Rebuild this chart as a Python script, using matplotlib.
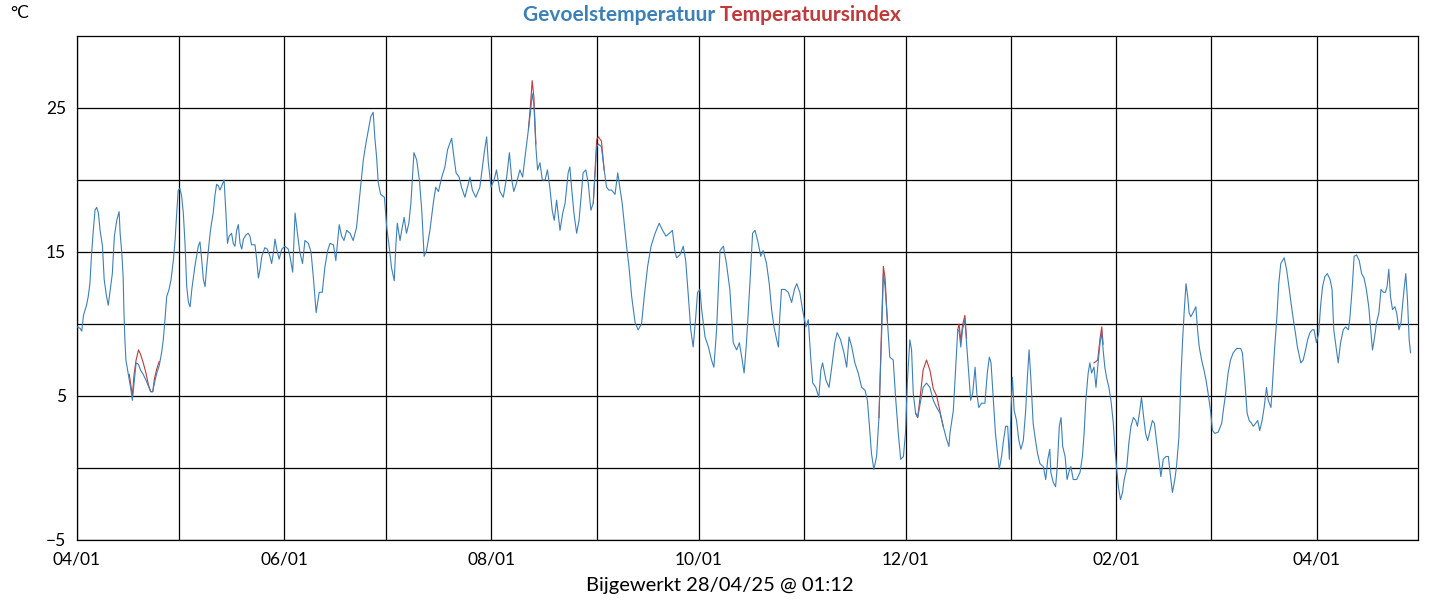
import matplotlib
matplotlib.use("Agg")
import matplotlib.pyplot as plt
import matplotlib.dates as mdates
import pandas as pd
import numpy as np

START = "2024-04-01"
# day offsets (fractional) since 2024-04-01 and "Gevoelstemperatuur" values (°C)
feel_days = [
 0.1,0.9,1.4,1.9,2.4,2.8,3.3,3.8,4.3,4.8,5.3,5.8,6.3,6.8,7.5,8.0,8.7,9.2,9.7,10.4,11.0,11.7,12.4,12.7,13.2,13.6,13.8,14.1,14.4,14.9,15.4,15.9,16.3,16.8,17.4,18.1,18.7,19.5,20.3,21.0,21.7,22.3,22.8,23.5,24.2,24.9,25.4,25.9,26.4,27.1,27.7,28.4,28.9,29.3,29.8,30.3,30.8,31.3,31.8,32.3,32.8,33.3,33.8,34.2,34.7,35.2,35.7,36.2,36.7,37.2,37.7,38.2,38.7,39.2,39.6,40.1,40.6,41.1,41.6,42.1,42.6,43.3,43.8,44.3,44.8,45.5,46.0,46.5,47.0,47.5,48.0,48.5,49.0,49.8,50.4,50.9,51.4,52.4,52.9,53.4,53.9,54.4,55.3,56.0,56.8,57.3,57.8,58.3,58.8,59.5,60.3,61.2,62.2,
 62.7,63.5,64.2,64.9,65.6,66.4,67.1,68.1,68.9,69.6,70.4,71.3,72.2,73.0,73.8,74.5,75.5,76.2,77.2,77.9,78.6,79.4,80.4,81.3,82.3,82.8,83.5,84.3,85.1,85.8,86.5,87.2,87.7,88.2,88.7,89.4,90.5,91.2,91.8,92.6,93.4,93.9,94.3,95.1,95.6,96.3,97.0,97.7,98.3,99.2,100.0,100.8,101.5,102.2,102.9,103.9,104.9,105.6,106.4,107.4,108.3,109.1,110.3,110.8,111.6,112.5,113.2,114.2,115.7,116.4,117.4,118.6,119.9,120.6,121.1,121.9,122.8,123.5,124.5,125.5,126.5,127.3,128.0,128.6,
 129.4,130.4,131.2,131.9,132.9,133.6,134.0,134.5,135.1,135.6,136.3,137.0,137.8,138.5,139.2,139.9,140.5,141.2,142.2,143.0,143.7,144.6,145.1,145.6,146.3,147.1,147.8,148.4,149.0,149.8,150.5,151.3,152.0,153.0,153.5,154.4,155.2,155.9,156.6,157.4,158.4,159.2,159.8,160.5,161.1,161.8,162.5,163.3,164.3,165.2,166.2,167.0,168.0,169.0,170.2,171.4,172.4,173.4,174.4,175.3,176.0,176.5,177.5,178.5,179.2,180.0,180.7,181.4,182.1,182.7,183.4,183.9,184.9,185.9,186.8,187.5,188.3,189.3,190.3,191.2,
 192.2,193.2,194.2,195.0,195.7,196.4,197.1,198.1,198.9,199.6,200.4,201.3,202.0,203.0,203.8,204.5,205.2,206.0,206.5,206.9,207.4,208.4,209.4,210.4,211.2,211.9,212.8,213.6,214.6,215.3,216.0,216.6,217.5,218.4,219.0,219.5,220.5,221.4,222.2,223.1,223.8,224.8,225.8,226.6,227.3,228.1,229.0,230.0,231.0,232.0,232.7,233.3,233.9,234.6,235.4,236.1,236.9,237.4,237.9,238.6,239.3,240.3,241.0,241.8,242.5,243.3,243.9,244.5,245.2,245.7,246.2,246.9,247.5,248.4,249.1,250.1,251.1,252.1,253.1,254.1,255.0,256.0,256.7,
 257.0,258.0,258.7,259.3,259.7,260.2,260.7,261.4,261.9,262.4,263.1,263.7,264.4,264.9,265.5,266.3,267.3,268.0,268.6,269.1,269.8,270.4,271.0,271.5,272.2,272.7,273.4,274.0,274.5,275.0,275.4,275.9,276.6,277.3,277.9,278.6,279.3,279.8,280.3,280.8,281.5,282.2,282.8,283.5,284.5,285.2,285.8,286.4,286.7,287.4,288.1,288.6,289.2,289.7,290.2,290.9,291.5,292.0,292.6,293.3,294.3,295.3,296.0,296.5,297.0,297.7,298.2,298.7,299.4,300.0,300.5,301.2,301.7,302.1,302.6,303.1,303.8,304.4,305.1,305.6,306.1,306.6,307.2,307.8,308.3,309.0,309.7,310.3,311.0,311.7,312.2,312.9,313.4,313.9,314.6,315.2,315.9,316.6,317.2,317.8,318.5,319.1,319.8,320.6,321.3,321.8,322.5,
 323.2,323.7,324.4,325.0,325.5,326.0,326.5,327.0,327.4,327.9,328.6,329.4,329.9,330.4,331.1,331.8,332.4,333.0,333.7,334.3,335.0,336.0,337.0,337.6,338.2,338.9,339.6,340.4,341.4,342.6,343.1,343.8,344.5,345.1,345.8,346.3,347.0,347.6,348.2,348.9,349.5,350.2,350.7,351.5,351.9,352.5,353.2,353.8,354.4,355.4,356.1,356.8,357.4,358.1,358.7,359.3,360.3,361.0,361.7,362.3,363.0,363.7,364.2,364.9,365.6,366.1,366.7,367.4,368.1,368.9,369.5,370.0,370.8,371.3,372.0,372.8,373.5,374.3,374.7,375.4,376.0,376.7,377.5,378.2,378.9,379.6,380.3,380.9,381.4,381.9,382.6,383.3,383.9,384.6,385.2,385.7,386.2,386.7,387.3,388.0,388.5,389.2,389.8,390.2,390.7,391.2,391.7,392.2,392.6]
feel_vals = [
 9.8,9.7,9.5,10.6,11.0,11.3,11.9,12.8,14.9,16.5,17.9,18.1,17.7,16.5,15.4,13.1,11.9,11.3,12.2,13.5,16.1,17.2,17.8,16.3,14.9,13.2,11.0,8.9,7.5,6.8,6.1,5.4,4.7,5.9,7.3,7.2,6.8,6.5,6.1,5.7,5.3,5.3,5.9,6.6,7.1,8.0,8.9,10.3,11.9,12.4,13.1,14.5,15.9,17.5,19.3,19.4,18.9,17.7,15.6,12.6,11.5,11.2,12.4,13.1,14.0,14.7,15.4,15.7,14.5,13.1,12.6,14.0,15.2,16.3,17.0,17.7,18.9,19.7,19.6,19.3,19.6,20.0,17.9,15.6,16.1,16.3,15.6,15.4,16.5,16.9,15.6,15.2,15.9,16.2,16.3,16.1,15.5,15.5,14.5,13.2,13.8,14.7,15.3,15.2,14.7,14.2,14.9,15.9,15.2,14.5,15.2,15.4,15.2,
 14.7,13.6,17.7,16.3,15.0,14.2,15.8,15.6,15.0,13.2,10.8,12.2,12.2,14.0,15.1,15.6,15.5,14.4,16.9,16.1,15.8,16.5,16.3,15.8,16.7,17.9,19.5,21.4,22.6,23.5,24.4,24.7,22.9,21.6,19.8,19.0,18.8,16.7,15.6,13.9,13.0,15.6,17.0,15.8,16.5,17.4,16.3,17.0,18.4,21.9,21.4,20.0,17.9,14.7,15.1,16.5,18.4,19.5,19.2,20.2,20.9,22.1,22.9,21.9,20.5,20.2,19.5,18.8,20.2,19.3,18.8,19.5,21.9,23.0,21.2,19.5,20.0,20.7,19.2,18.8,20.2,21.9,20.0,19.2,
 19.8,20.7,20.2,21.6,23.5,24.9,26.0,25.3,22.3,20.7,21.2,20.0,20.0,20.7,19.5,17.9,17.2,18.6,16.5,17.7,18.4,20.5,20.9,19.5,17.7,16.3,17.2,18.8,20.5,20.7,19.8,17.9,18.4,22.3,22.5,22.3,20.7,19.5,19.3,19.3,19.0,20.5,19.5,18.4,17.0,15.4,14.0,11.9,10.1,9.6,10.0,11.9,14.0,15.4,16.3,17.0,16.5,16.1,16.3,16.5,15.1,14.6,14.8,15.4,14.4,11.9,9.6,8.4,10.3,12.2,12.4,11.0,9.1,8.4,7.5,7.0,9.6,15.1,15.4,14.2,
 12.4,8.7,8.2,8.7,7.7,6.6,8.7,12.8,16.3,16.5,15.8,14.7,15.1,14.2,12.8,11.0,9.8,8.9,8.4,10.5,12.4,12.4,12.2,11.5,12.4,12.8,12.2,11.0,9.8,10.3,7.7,5.9,5.6,4.9,6.8,7.3,6.1,5.6,7.0,8.7,9.4,8.9,8.0,7.0,9.1,8.4,7.3,6.6,5.6,5.4,4.7,2.9,1.0,-0.1,0.8,3.5,9.4,13.5,12.6,10.1,7.7,7.5,4.9,2.4,0.6,0.8,2.4,6.1,8.9,8.2,5.2,3.8,3.5,4.7,5.6,5.9,5.6,4.7,4.2,3.8,2.9,2.0,1.5,
 2.4,4.0,7.0,9.6,9.5,8.4,9.6,10.3,8.7,7.0,4.7,5.2,7.0,5.2,4.2,4.5,4.5,6.6,7.7,7.3,4.7,2.4,1.0,-0.1,0.8,1.8,2.9,2.9,0.6,4.2,6.3,4.0,3.3,1.9,1.3,1.9,4.0,6.3,8.2,6.3,3.1,1.9,1.0,0.3,0.1,-0.8,0.6,1.3,-0.3,-1.0,-1.3,0.1,2.9,3.5,1.5,0.8,-0.8,-0.3,0.1,-0.8,-0.8,-0.3,0.8,2.4,4.7,6.6,7.3,6.6,7.0,5.6,7.0,8.7,9.4,8.2,7.0,6.3,5.6,4.7,3.1,1.3,-0.1,-1.3,-2.2,-1.7,-0.8,-0.1,1.8,2.9,3.5,3.3,2.9,4.0,4.9,3.8,2.4,1.9,2.6,3.3,3.1,1.9,0.6,-0.6,0.6,0.8,0.8,-0.3,-1.7,
 -0.8,0.1,2.1,6.3,8.9,11.0,12.8,11.9,10.8,10.5,10.8,11.2,9.6,8.4,7.5,6.8,6.1,5.2,4.0,2.6,2.4,2.5,3.1,4.2,5.2,6.6,7.5,8.0,8.3,8.3,8.0,6.1,3.8,3.3,3.1,2.9,3.1,3.3,2.6,3.3,4.2,5.6,4.7,4.2,5.6,8.0,10.3,12.8,14.2,14.6,13.8,12.6,11.5,10.3,9.4,8.4,7.3,7.5,8.2,8.9,9.4,9.6,9.6,8.7,9.4,11.2,12.6,13.3,13.5,13.1,12.4,9.6,8.2,7.3,8.7,9.6,9.8,9.6,10.3,12.4,14.7,14.8,14.4,13.5,13.2,12.4,11.2,9.6,8.2,8.9,10.1,10.8,12.4,12.2,12.2,12.6,13.8,11.9,11.0,11.2,10.8,9.6,10.1,11.2,12.4,13.5,11.7,8.9,8.0]

# "Temperatuursindex" where it differs visibly from the gevoelstemperatuur
index_segments = [
 ([15.4,16.3,16.8,17.4,18.1,18.7,19.5,20.3,21.0,21.7,22.3,22.8,23.5,24.2],
  [6.5,5.0,6.5,7.5,8.2,7.9,7.3,6.6,5.8,5.3,5.3,6.2,6.9,7.4]),
 ([132.9,133.6,134.0,134.5,135.1], [23.5,25.5,26.9,25.8,22.5]),
 ([152.0,153.0,153.5,154.4,155.2], [18.4,22.8,23.0,22.7,20.7]),
 ([236.1,236.9,237.4,237.9,238.6], [3.5,10.0,14.0,13.2,10.1]),
 ([246.9,247.5,248.4,249.1,250.1,251.1,252.1,253.1,254.1,255.0],
  [3.8,3.5,5.3,6.8,7.5,6.8,5.5,5.0,3.9,2.9]),
 ([259.3,259.7,260.2,260.7,261.4,261.9], [9.6,10.0,8.8,9.9,10.6,9.0]),
 ([299.4,300.0,300.5,301.2,301.7,302.1], [7.3,7.4,7.5,9.0,9.8,8.6]),
]

BLUE = "#3d80b8"
RED = "#c0393b"

t0 = pd.Timestamp(START)
def to_dates(days):
    return t0 + pd.to_timedelta(np.asarray(days), unit="D")

fig = plt.figure(figsize=(14.4, 6.0), dpi=100)
ax = fig.add_axes([77/1440, 60/600, 1341/1440, 504/600])
for d, v in index_segments:
    ax.plot(to_dates(d), v, color=RED, lw=0.8, zorder=3)
ax.plot(to_dates(feel_days), feel_vals, color=BLUE, lw=0.8, zorder=4)

ax.set_xlim(t0, t0 + pd.Timedelta(days=394.8))
ax.set_ylim(-5, 30)
ax.set_yticks([-5, 5, 15, 25])
ax.set_yticks([0, 10, 20], minor=True)
ax.xaxis.set_major_locator(mdates.MonthLocator(bymonth=[2, 4, 6, 8, 10, 12]))
ax.xaxis.set_minor_locator(mdates.MonthLocator())
ax.xaxis.set_major_formatter(mdates.DateFormatter("%m/%d"))
ax.grid(True, which="both", color="black", lw=0.9)
ax.tick_params(which="both", length=0, labelsize=12.5)
ax.tick_params(axis="y", pad=8)
ax.tick_params(axis="x", pad=8)
for lab in ax.get_xticklabels() + ax.get_yticklabels():
    lab.set_fontfamily("Lato")
for s in ax.spines.values():
    s.set_linewidth(0.9)

fig.text(0.5, 0.975, "Gevoelstemperatuur ", color=BLUE, fontsize=15, fontweight="bold",
         fontfamily="Lato", ha="right", va="center")
fig.text(0.5, 0.975, "Temperatuursindex", color=RED, fontsize=15, fontweight="bold",
         fontfamily="Lato", ha="left", va="center")
fig.text(10/1440, 1 - 13/600, "°C", fontsize=12.5, fontfamily="Lato", ha="left", va="center")
fig.text(0.5, 1 - 586/600, "Bijgewerkt 28/04/25 @ 01:12", fontsize=14.5, fontfamily="Lato",
         ha="center", va="center")
fig.savefig("out.png", dpi=100)
